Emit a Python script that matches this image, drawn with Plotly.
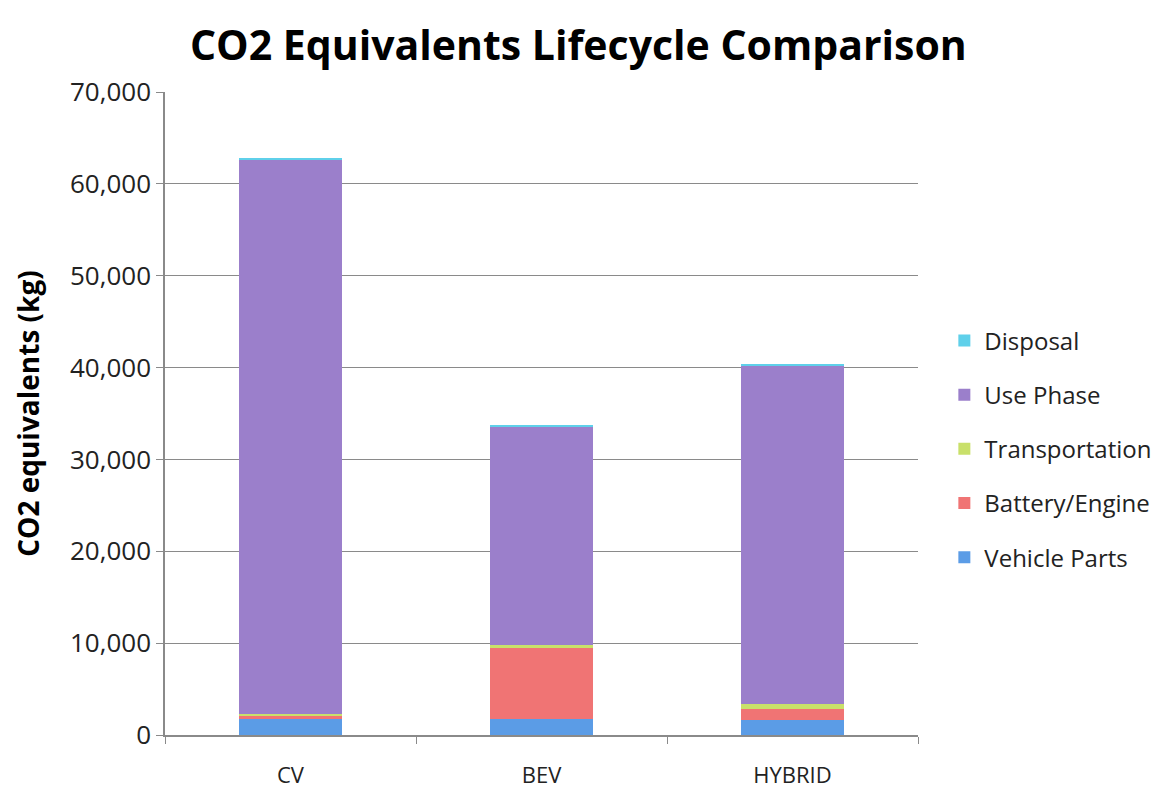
import plotly.graph_objects as go

categories = ["CV", "BEV", "HYBRID"]
vehicle_parts = [1700, 1700, 1600]
battery_engine = [400, 7800, 1200]
transportation = [200, 250, 600]
use_phase = [60300, 23800, 36800]
disposal = [200, 250, 200]

series = [
    ("Vehicle Parts", vehicle_parts, "#5b9ce6"),
    ("Battery/Engine", battery_engine, "#f07474"),
    ("Transportation", transportation, "#c9e06a"),
    ("Use Phase", use_phase, "#9b7fcb"),
    ("Disposal", disposal, "#5fd0ea"),
]

fig = go.Figure()
n = len(series)
for i, (name, vals, color) in enumerate(series):
    fig.add_trace(go.Bar(
        x=categories, y=vals, name=name, legendgroup=name,
        legendrank=1000 + (n - i),
        marker=dict(color=color, line=dict(width=0)),
        width=0.41,
    ))

fig.update_layout(
    barmode="stack",
    width=1164, height=796,
    paper_bgcolor="white", plot_bgcolor="white",
    margin=dict(l=157, r=254, t=84, b=69),
    font=dict(family="Open Sans, sans-serif", color="#222222"),
    title=dict(text="<b>CO2 Equivalents Lifecycle Comparison</b>",
               x=0.49, xref="container", xanchor="center", y=0.953, yanchor="middle",
               font=dict(size=41, color="#000000")),
    legend=dict(traceorder="grouped", x=1.035, xanchor="left", y=0.445, yanchor="middle",
                font=dict(size=24, color="#222222"), tracegroupgap=20,
                itemwidth=30),
    showlegend=True,
)
fig.update_yaxes(range=[0, 70000], tickvals=[0, 10000, 20000, 30000, 40000, 50000, 60000, 70000],
                 tickformat=",d", showgrid=True, gridcolor="#8a8a8a", gridwidth=1.2,
                 showline=True, linecolor="#8a8a8a", linewidth=1.5,
                 ticks="outside", ticklen=7, tickcolor="#8a8a8a",
                 tickfont=dict(size=26, color="#222222"),
                 title=dict(text="<b>CO2 equivalents (kg)</b>", font=dict(size=28, color="#000000"), standoff=22),
                 zeroline=False)
fig.update_xaxes(showline=True, linecolor="#8a8a8a", linewidth=1.5,
                 ticks="outside", tickson="boundaries", ticklen=7, tickcolor="#8a8a8a",
                 ticklabelstandoff=20,
                 tickfont=dict(size=22, color="#222222"))

fig.write_html("out.html")
